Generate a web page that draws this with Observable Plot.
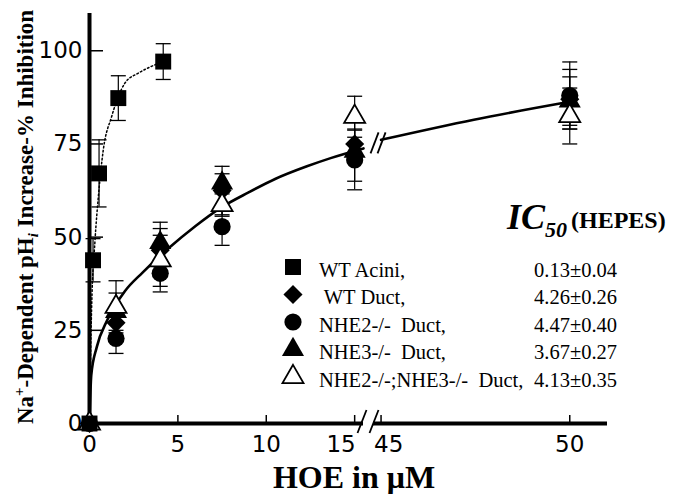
<!DOCTYPE html>
<html><head><meta charset="utf-8">
<script src="https://cdn.jsdelivr.net/npm/d3@7"></script>
<script src="https://cdn.jsdelivr.net/npm/@observablehq/plot@0.6"></script>
<style>
body{margin:0;background:#fff;}
#chart{width:680px;height:494px;}
</style>
</head><body><div id="chart"></div>
<script>
// ---------- data ----------
const ductConc   = [0, 1.5, 4, 7.5, 15, 50];
const wtDuct     = [0, 27, 46.5, 62.5, 75, 87];
const wtDuctErr  = [0, 4, 4, 6.5, 4, 8];
const nhe2Duct   = [0, 22.8, 40.3, 52.8, 70.7, 88];
const nhe2Err    = [0, 4, 3.5, 5, 8, 9];
const nhe3Duct   = [0, 30, 48.5, 64.5, 73, 86.5];
const nhe3Err    = [0, 5, 5.5, 2.5, 8, 6.5];
const dkoDuct    = [0, 31.3, 43.8, 58.6, 82.3, 82.5];
const dkoErr     = [0, 7, 8.5, 3, 5.5, 7.5];

const aciniConc  = [0, 0.2, 0.54, 1.63, 4.17];
const wtAcini    = [0, 43.8, 67.1, 87.3, 97.1];
const aciniErr   = [0, 5.8, 9, 6, 4.8];

// fitted curves
const aciniFitX  = [0, 0.02, 0.05, 0.12, 0.31, 0.5, 0.78, 1.25, 2.0, 2.76, 3.5, 4.17];
const aciniFitY  = [0, 5, 15, 31, 49, 60.8, 73.4, 82.3, 91.3, 94, 95.8, 97.1];
const ductFitX   = [0, 0.1, 0.41, 1.0, 2.0, 3.0, 4.42, 6.0, 7.4, 9.0, 10.5, 12.3, 13.64, 15.5, 45, 47.46, 50];
const ductFitY   = [0, 13, 20.5, 27.7, 35.5, 40.5, 46.8, 53, 57.8, 62, 65.6, 69, 71.2, 73.8, 76.1, 81.5, 86.3];
const ductFitSeg = ["a","a","a","a","a","a","a","a","a","a","a","a","a","a","b","b","b"];

// axis
const xBreak  = [15.5, 44.8];   // broken x axis: left part ends, right part starts
const xMax    = 51;
const xTicks  = [0, 5, 10, 15, 45, 50];
const xTicksMid   = [0, 5, 10, 50];   // labels centred on their tick
const xTicksLeft  = [15];             // label set left of its tick (before the break)
const xTicksRight = [45];             // label set right of its tick (after the break)
const yTicks  = [0, 25, 50, 75, 100];

// legend
const legendLabels = ["WT Acini,", " WT Duct,", "NHE2-/-  Duct,", "NHE3-/-  Duct,", "NHE2-/-;NHE3-/-  Duct,"];
const legendIC50   = ["0.13±0.04", "4.26±0.26", "4.47±0.40", "3.67±0.27", "4.13±0.35"];
const legendSymbols = ["square", "diamond2", "circle", "triangle", "triangle"];
const legendFills   = ["black", "black", "black", "black", "white"];

// ---------- build ----------
// x scale transform for the axis break (right part drawn with a wider unit)
const gapW = 0.566, rightK = 2.135;
const brk = v => v <= xBreak[0] ? v
  : v >= xBreak[1] ? xBreak[0] + gapW + (v - xBreak[1]) * rightK
  : xBreak[0] + (v - xBreak[0]) / (xBreak[1] - xBreak[0]) * gapW;
const xTicksT = xTicks.map(brk);

const series = (name, xs, ys, es) => xs.map((x, i) => ({series: name, x, y: ys[i], e: es[i]}));
const acini = series("acini", aciniConc, wtAcini, aciniErr);
const wt    = series("wt", ductConc, wtDuct, wtDuctErr);
const n2    = series("n2", ductConc, nhe2Duct, nhe2Err);
const n3    = series("n3", ductConc, nhe3Duct, nhe3Err);
const dko   = series("dko", ductConc, dkoDuct, dkoErr);
const errs  = [...acini, ...wt, ...n2, ...n3, ...dko].filter(d => d.e > 0);
const aciniFit = aciniFitX.map((x, i) => ({x, y: aciniFitY[i]}));
const ductFit  = ductFitX.map((x, i) => ({x, y: ductFitY[i], seg: ductFitSeg[i]}));
const axisSegs = [{a: 0, b: xBreak[0]}, {a: xBreak[1], b: xMax}];

const capSymbol = {draw(ctx) { ctx.moveTo(-7.5, 0); ctx.lineTo(7.5, 0); }};
const tickText = {x: d => d, text: d => String(d), frameAnchor: "bottom", lineAnchor: "top", dy: 12,
                  fontSize: 23, fontFamily: "DejaVu Sans", fill: "black"};

const plot = Plot.plot({
  width: 680, height: 494,
  marginLeft: 89, marginRight: 73, marginTop: 13, marginBottom: 71,
  style: {background: "white", fontFamily: "DejaVu Sans", fontSize: "22px", color: "black", overflow: "visible"},
  x: {type: "linear", transform: brk, domain: [brk(0), brk(xMax)], range: [89, 607]},
  y: {domain: [0, 110]},
  marks: [
    Plot.ruleY(axisSegs, {x1: "a", x2: "b", y: 0, stroke: "black", strokeWidth: 4}),
    Plot.ruleX([0], {stroke: "black", strokeWidth: 4}),
    Plot.axisX({ticks: xTicksT, tickFormat: () => "", tickSize: -8, strokeWidth: 1.5, label: null}),
    Plot.text(xTicksMid, {...tickText, textAnchor: "middle"}),
    Plot.text(xTicksLeft, {...tickText, textAnchor: "end", dx: 1}),
    Plot.text(xTicksRight, {...tickText, textAnchor: "start", dx: -7}),
    Plot.axisY({ticks: yTicks, tickSize: -14, tickPadding: 21, strokeWidth: 1.5, label: null, fontSize: 23, fontFamily: "DejaVu Sans"}),
    Plot.line(aciniFit, {x: "x", y: "y", stroke: "black", strokeWidth: 1.5, strokeDasharray: "1.6,2.4", curve: "monotone-x"}),
    Plot.line(ductFit, {x: "x", y: "y", z: "seg", stroke: "black", strokeWidth: 2.6, curve: "monotone-x"}),
    Plot.ruleX(errs, {x: "x", y1: d => d.y - d.e, y2: d => d.y + d.e, stroke: "black", strokeWidth: 1.2}),
    Plot.dot(errs, {x: "x", y: d => d.y + d.e, symbol: capSymbol, r: 5, fill: "none", stroke: "black", strokeWidth: 1.3}),
    Plot.dot(errs, {x: "x", y: d => d.y - d.e, symbol: capSymbol, r: 5, fill: "none", stroke: "black", strokeWidth: 1.3}),
    Plot.dot(n2, {x: "x", y: "y", symbol: "circle", r: 8.6, fill: "black", stroke: "none"}),
    Plot.dot(wt, {x: "x", y: "y", symbol: "diamond2", r: 8.6, fill: "black", stroke: "none"}),
    Plot.dot(n3, {x: "x", y: "y", symbol: "triangle", r: 8.2, fill: "black", stroke: "none"}),
    Plot.dot(dko, {x: "x", y: "y", symbol: "triangle", r: 7.8, fill: "white", stroke: "black", strokeWidth: 1.8}),
    Plot.dot(acini, {x: "x", y: "y", symbol: "square", r: 9, fill: "black", stroke: "none"})
  ]
});
document.getElementById("chart").append(plot);

// ---------- annotations ----------
const xs = plot.scale("x"), ys = plot.scale("y");
const sx = v => xs.apply(brk(v)), sy = v => ys.apply(v);
const svg = d3.select(plot);
const g = svg.append("g").attr("text-anchor", "start");

// break marks on the axis
[sx(xBreak[0]) - 1, sx(xBreak[1]) + 1].forEach(cx => {
  g.append("line").attr("x1", cx - 4.5).attr("y1", sy(0) + 10).attr("x2", cx + 4.5).attr("y2", sy(0) - 13)
    .attr("stroke", "black").attr("stroke-width", 1.8);
});
// break marks on the fitted line
[sx(45) - 6, sx(45) + 1].forEach(cx => {
  const cy = sy(75.3);
  g.append("line").attr("x1", cx - 4).attr("y1", cy + 11).attr("x2", cx + 4).attr("y2", cy - 10)
    .attr("stroke", "black").attr("stroke-width", 1.8);
});

// legend
const leg = g.append("g");
legendLabels.forEach((lab, i) => {
  const cy = 267 + 27.5 * i;
  const r = legendSymbols[i] === "triangle" ? (legendFills[i] === "white" ? 7.8 : 8.2) : (legendSymbols[i] === "square" ? 9 : 8.6);
  const sym = {square: d3.symbolSquare, diamond2: d3.symbolDiamond2, circle: d3.symbolCircle, triangle: d3.symbolTriangle}[legendSymbols[i]];
  leg.append("path").attr("transform", `translate(293,${cy})`)
    .attr("d", d3.symbol(sym, Math.PI * r * r)())
    .attr("fill", legendFills[i]).attr("stroke", legendFills[i] === "white" ? "black" : "none").attr("stroke-width", 1.8);
  leg.append("text").attr("x", 319).attr("y", cy + 9.5).attr("text-anchor", "start").style("white-space", "pre")
    .attr("font-family", "Liberation Serif").attr("font-size", 20.5).text(lab);
  leg.append("text").attr("x", 534).attr("y", cy + 9.5).attr("text-anchor", "start")
    .attr("font-family", "Liberation Serif").attr("font-size", 20.5).text(legendIC50[i]);
});

// IC50 heading
const ic = g.append("text").attr("x", 507).attr("y", 229).attr("text-anchor", "start")
  .attr("font-family", "Liberation Serif").attr("font-weight", "bold");
ic.append("tspan").attr("font-style", "italic").attr("font-size", 36).text("IC");
ic.append("tspan").attr("font-style", "italic").attr("font-size", 22).attr("dy", 8).text("50");
ic.append("tspan").attr("font-size", 24).attr("dy", -9).attr("dx", 4).text("(HEPES)");

// x title
g.append("text").attr("x", 354).attr("y", 488).attr("text-anchor", "middle")
  .attr("font-family", "Liberation Serif").attr("font-weight", "bold").attr("font-size", 32).text("HOE in μM");

// y title
const yt = g.append("text").attr("transform", "translate(33,217) rotate(-90)").attr("text-anchor", "middle")
  .attr("font-family", "Liberation Serif").attr("font-weight", "bold").attr("font-size", 23);
yt.append("tspan").text("Na");
yt.append("tspan").attr("font-size", 15).attr("dy", -9).text("+");
yt.append("tspan").attr("dy", 9).text("-Dependent pH");
yt.append("tspan").attr("font-size", 15).attr("font-style", "italic").attr("dy", 5).text("i");
yt.append("tspan").attr("dy", -5).text(" Increase-% Inhibition");
</script></body></html>
